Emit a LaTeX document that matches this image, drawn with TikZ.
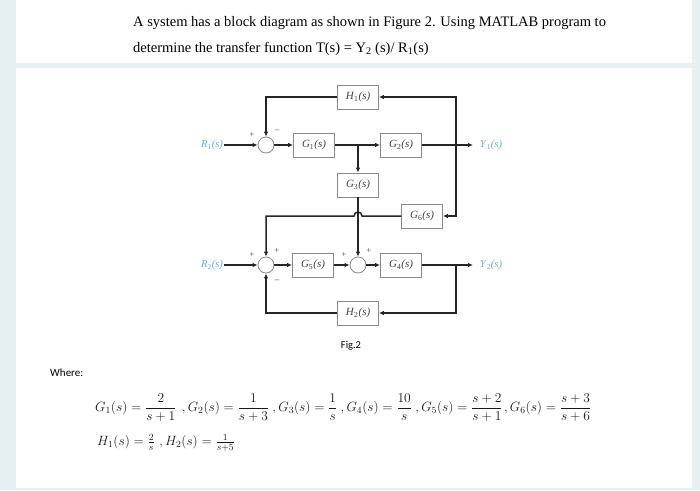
\RequirePackage{fix-cm}
\documentclass[tikz,border=0pt]{standalone}
\usepackage{amsmath}
\usepackage{fontspec}
\setmainfont{Liberation Serif}
\newfontfamily\figfont{Carlito}
\usepackage{tikz}
\usetikzlibrary{arrows.meta,positioning}
\definecolor{bgblue}{HTML}{E6EFF2}
\definecolor{sigblue}{HTML}{62ACDA}
\definecolor{wire}{HTML}{262626}
\definecolor{boxgray}{HTML}{8A8A8A}
\newcommand{\tf}[2]{\textit{#1}\textsubscript{#2}\textit{(s)}}

\begin{document}
\begin{tikzpicture}[x=1pt,y=-1pt,
	block/.style={draw=boxgray, line width=0.8pt, fill=white, minimum width=41pt, minimum height=24pt, inner sep=0pt, font=\fontsize{11}{12}\selectfont, text=black!75},
	sum/.style={circle, draw=boxgray, line width=0.8pt, fill=white, minimum size=16pt, inner sep=0pt},
	sig/.style={font=\fontsize{10.5}{11}\selectfont, text=sigblue, inner sep=1pt},
	sgn/.style={font=\fontsize{9}{10}\selectfont, text=black!70, inner sep=0pt},
	wire/.style={draw=wire, line width=1.5pt},
	flow/.style={wire, -{Latex[length=5pt,width=4.5pt]}},
	eqn/.style={inner sep=0pt, font=\fontsize{13.45}{15}\selectfont, text=black!90}]

	% page background
	\fill[bgblue] (0,0) rectangle (700,490);
	\fill[white] (16,0) rectangle (692,63);
	\fill[white] (16,68) rectangle (692,488);
	\useasboundingbox (0,0) rectangle (700,490);

	% question text
	\node[anchor=base west, inner sep=0pt, font=\fontsize{14.5}{16}\selectfont] (q1) at (133,26) {A system has a block diagram as shown in Figure 2. Using MATLAB program to};
	\node[anchor=base west, inner sep=0pt, font=\fontsize{14.5}{16}\selectfont] (q2) at (133,52) {determine the transfer function T(s) = Y\textsubscript{2} (s)/ R\textsubscript{1}(s)};

	% blocks
	\node[block] (H1) at (358,97) {\tf{H}{1}};
	\node[block] (G1) at (314,145) {\tf{G}{1}};
	\node[block] (G2) at (401,145) {\tf{G}{2}};
	\node[block] (G3) at (358,185) {\tf{G}{3}};
	\node[block] (G6) at (422,216) {\tf{G}{6}};
	\node[block] (G5) at (313,265) {\tf{G}{5}};
	\node[block] (G4) at (401,265) {\tf{G}{4}};
	\node[block] (H2) at (358,313) {\tf{H}{2}};

	% summing points
	\node[sum] (S1) at (266,145) {};
	\node[sum] (S2) at (266,265) {};
	\node[sum] (S3) at (358,265) {};

	% inputs and outputs
	\node[sig] (R1) at (212,145) {\tf{R}{1}};
	\node[sig] (R2) at (212,265) {\tf{R}{2}};
	\node[sig] (Y1) at (491,145) {\tf{Y}{1}};
	\node[sig] (Y2) at (491,265) {\tf{Y}{2}};
	\coordinate (j1) at (358,145);
	\coordinate (j2) at (456,145);
	\coordinate (j3) at (456,265);
	\coordinate (o1) at (473,145);
	\coordinate (o2) at (473,265);
	\coordinate (c6) at (266,216);
	\coordinate (hopR) at (362,216);

	% top loop
	\draw[flow] (R1) -- (S1);
	\draw[flow] (S1) -- (G1);
	\draw[flow] (G1) -- (G2);
	\draw[flow] (j1) -- (G3);
	\draw[flow] (G2) -- (o1);
	\draw[flow] (j2) |- (H1);
	\draw[flow] (j2) |- (G6);
	\draw[flow] (H1) -| (S1);

	% cross links
	\draw[flow] (G6) -- (hopR) arc[start angle=0, end angle=180, radius=4pt] -- (c6) -- (S2);
	\draw[flow] (G3) -- (S3);

	% bottom loop
	\draw[flow] (R2) -- (S2);
	\draw[flow] (S2) -- (G5);
	\draw[flow] (G5) -- (S3);
	\draw[flow] (S3) -- (G4);
	\draw[flow] (G4) -- (o2);
	\draw[flow] (j3) |- (H2);
	\draw[flow] (H2) -| (S2);

	% signs
	\node[sgn] (p1) at (252,135) {+};
	\node[sgn] (m1) at (277,131) {\textendash};
	\node[sgn] (p2) at (252,255) {+};
	\node[sgn] (p3) at (277,251) {+};
	\node[sgn] (m2) at (277,281) {\textendash};
	\node[sgn] (p4) at (344,255) {+};
	\node[sgn] (p5) at (369,251) {+};

	\node[font=\figfont\fontsize{10.5}{12}\selectfont, inner sep=0pt] (fig) at (351,346) {Fig.2};
	\node[anchor=west, font=\figfont\fontsize{11}{13}\selectfont, inner sep=0pt] (where) at (50,373) {Where:};

	% transfer functions
	\node[eqn, anchor=west] (e1) at (95,408) {$G_1(s)=\dfrac{2}{s+1}$};
	\node[eqn, base right=5pt of e1] (e2) {$,G_2(s)=\dfrac{1}{s+3}$};
	\node[eqn, base right=3pt of e2] (e3) {$,G_3(s)=\dfrac{1}{s}$};
	\node[eqn, base right=3pt of e3] (e4) {$,G_4(s)=\dfrac{10}{s}$};
	\node[eqn, base right=3pt of e4] (e5) {$,G_5(s)=\dfrac{s+2}{s+1}$};
	\node[eqn, base right=1pt of e5] (e6) {$,G_6(s)=\dfrac{s+3}{s+6}$};
	\node[eqn, anchor=west] (e7) at (97,442) {$H_1(s)=\frac{2}{s}$};
	\node[eqn, base right=4pt of e7] (e8) {$,H_2(s)=\frac{1}{s+5}$};
\end{tikzpicture}
\end{document}
